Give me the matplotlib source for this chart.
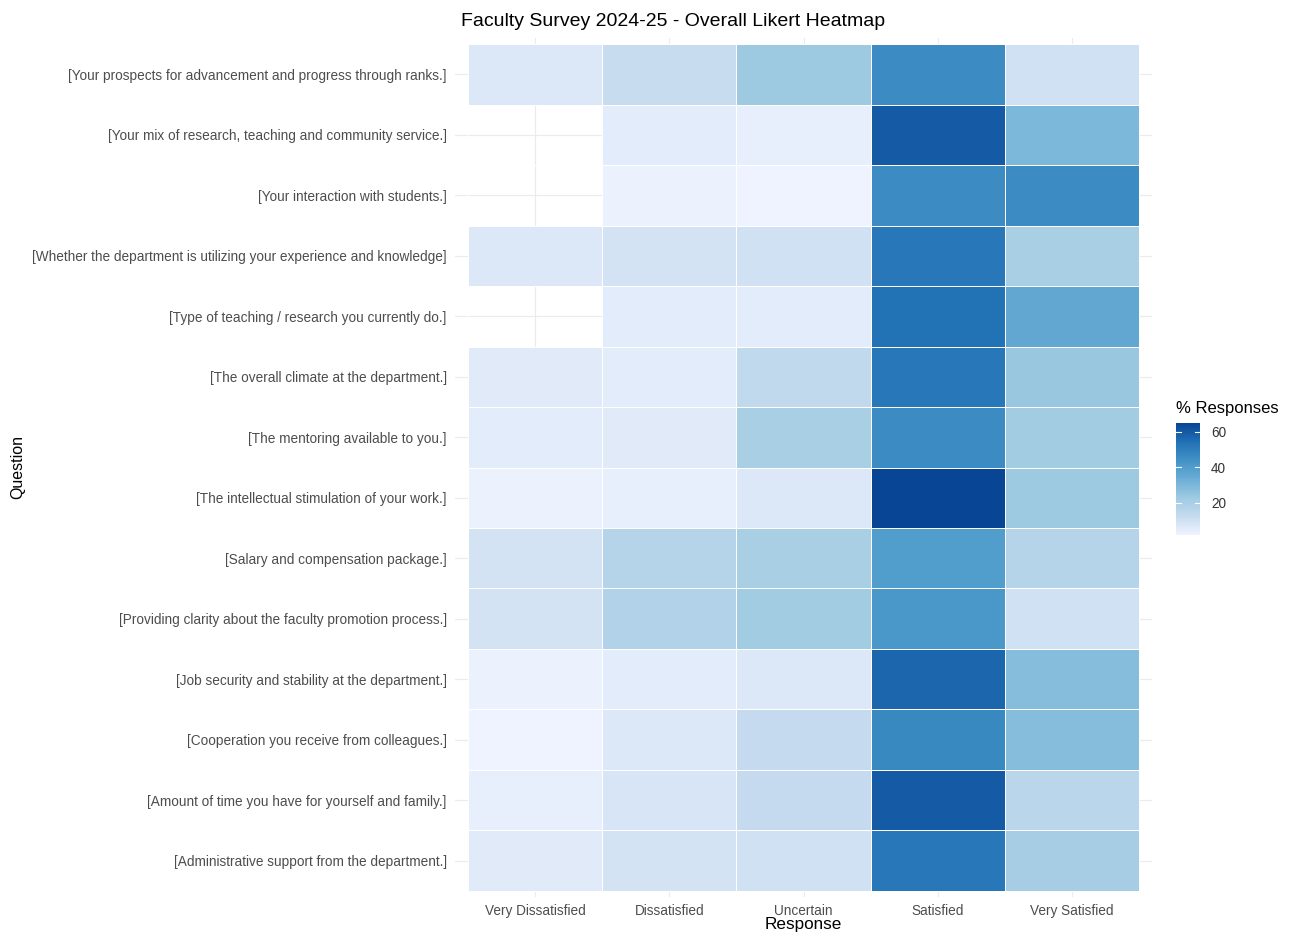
import numpy as np
import matplotlib.pyplot as plt
from matplotlib.colors import LinearSegmentedColormap

plt.rcParams['font.family'] = ['Liberation Sans', 'DejaVu Sans']

# Questions, top to bottom as shown
questions = [
    "[Your prospects for advancement and progress through ranks.]",
    "[Your mix of research, teaching and community service.]",
    "[Your interaction with students.]",
    "[Whether the department is utilizing your experience and knowledge]",
    "[Type of teaching / research you currently do.]",
    "[The overall climate at the department.]",
    "[The mentoring available to you.]",
    "[The intellectual stimulation of your work.]",
    "[Salary and compensation package.]",
    "[Providing clarity about the faculty promotion process.]",
    "[Job security and stability at the department.]",
    "[Cooperation you receive from colleagues.]",
    "[Amount of time you have for yourself and family.]",
    "[Administrative support from the department.]",
]
responses = ["Very Dissatisfied", "Dissatisfied", "Uncertain", "Satisfied", "Very Satisfied"]

# % responses per column (NaN = no response)
very_dissatisfied = [7, np.nan, np.nan, 7, np.nan, 6, 5, 3, 9, 9, 3, 2, 4, 6]
dissatisfied      = [12, 5, 3, 9, 5, 5, 6, 4, 17, 18, 5, 7, 8, 9]
uncertain         = [23, 4, 2, 10, 5, 14, 20, 7, 20, 22, 7, 13, 13, 10]
satisfied         = [46, 60, 46, 52, 54, 52, 46, 65, 40, 42, 57, 47, 60, 52]
very_satisfied    = [10, 30, 46, 20, 36, 24, 22, 23, 17, 10, 28, 28, 16, 21]

blues = ["#EFF3FF", "#C6DBEF", "#9ECAE1", "#6BAED6", "#4292C6", "#2171B5", "#084594"]
cmap = LinearSegmentedColormap.from_list("blues7", blues)

data = np.array([very_dissatisfied, dissatisfied, uncertain, satisfied, very_satisfied]).T
n = len(questions)
grid = np.ma.masked_invalid(data[::-1])
vmin, vmax = np.nanmin(data), np.nanmax(data)

fig = plt.figure(figsize=(12.9, 9.33), dpi=100)
ax = fig.add_axes([455/1290, 1-897/933, 697/1290, 859/933])

xe = np.arange(len(responses) + 1) - 0.5
ye = np.arange(n + 1) - 0.5
mesh = ax.pcolormesh(xe, ye, grid, cmap=cmap, vmin=vmin, vmax=vmax,
                     edgecolors='white', linewidth=0.6, zorder=2)

ax.set_xlim(-0.6, len(responses) - 0.4)
ax.set_ylim(-0.6, n - 0.4)
ax.set_xticks(range(len(responses)))
ax.set_xticklabels(responses, fontsize=9.8, color='#4D4D4D')
ax.set_yticks(range(n))
ax.set_yticklabels(questions[::-1], fontsize=9.8, color='#4D4D4D')
ax.tick_params(axis='y', length=0, pad=6)
ax.tick_params(axis='x', length=0, pad=5)
ax.grid(True, color='#EBEBEB', linewidth=0.8, zorder=0)
ax.set_axisbelow(True)
for s in ax.spines.values():
    s.set_visible(False)

fig.text(803/1290, 1-925/933, "Response", fontsize=12.3, ha='center', va='center')
fig.text(18/1290, 1-467/933, "Question", rotation=90, fontsize=11.5,
         ha='center', va='center')
fig.text(673/1290, 1-21/933, "Faculty Survey 2024-25 - Overall Likert Heatmap",
         fontsize=14, ha='center', va='center')

# colour bar legend
cax = fig.add_axes([1176/1290, 1-535/933, 24/1290, 112/933])
cb = fig.colorbar(mesh, cax=cax, ticks=[20, 40, 60])
cb.outline.set_visible(False)
cax.tick_params(length=0, labelsize=9.8, labelcolor='#333333', pad=8)
for t in [20, 40, 60]:
    cax.plot([0, 0.2], [t, t], color='white', linewidth=0.8, transform=cax.get_yaxis_transform())
    cax.plot([0.8, 1], [t, t], color='white', linewidth=0.8, transform=cax.get_yaxis_transform())
fig.text(1176/1290, 1-409/933, "% Responses", fontsize=12, ha='left', va='center')

fig.savefig("out.png", dpi=100)
